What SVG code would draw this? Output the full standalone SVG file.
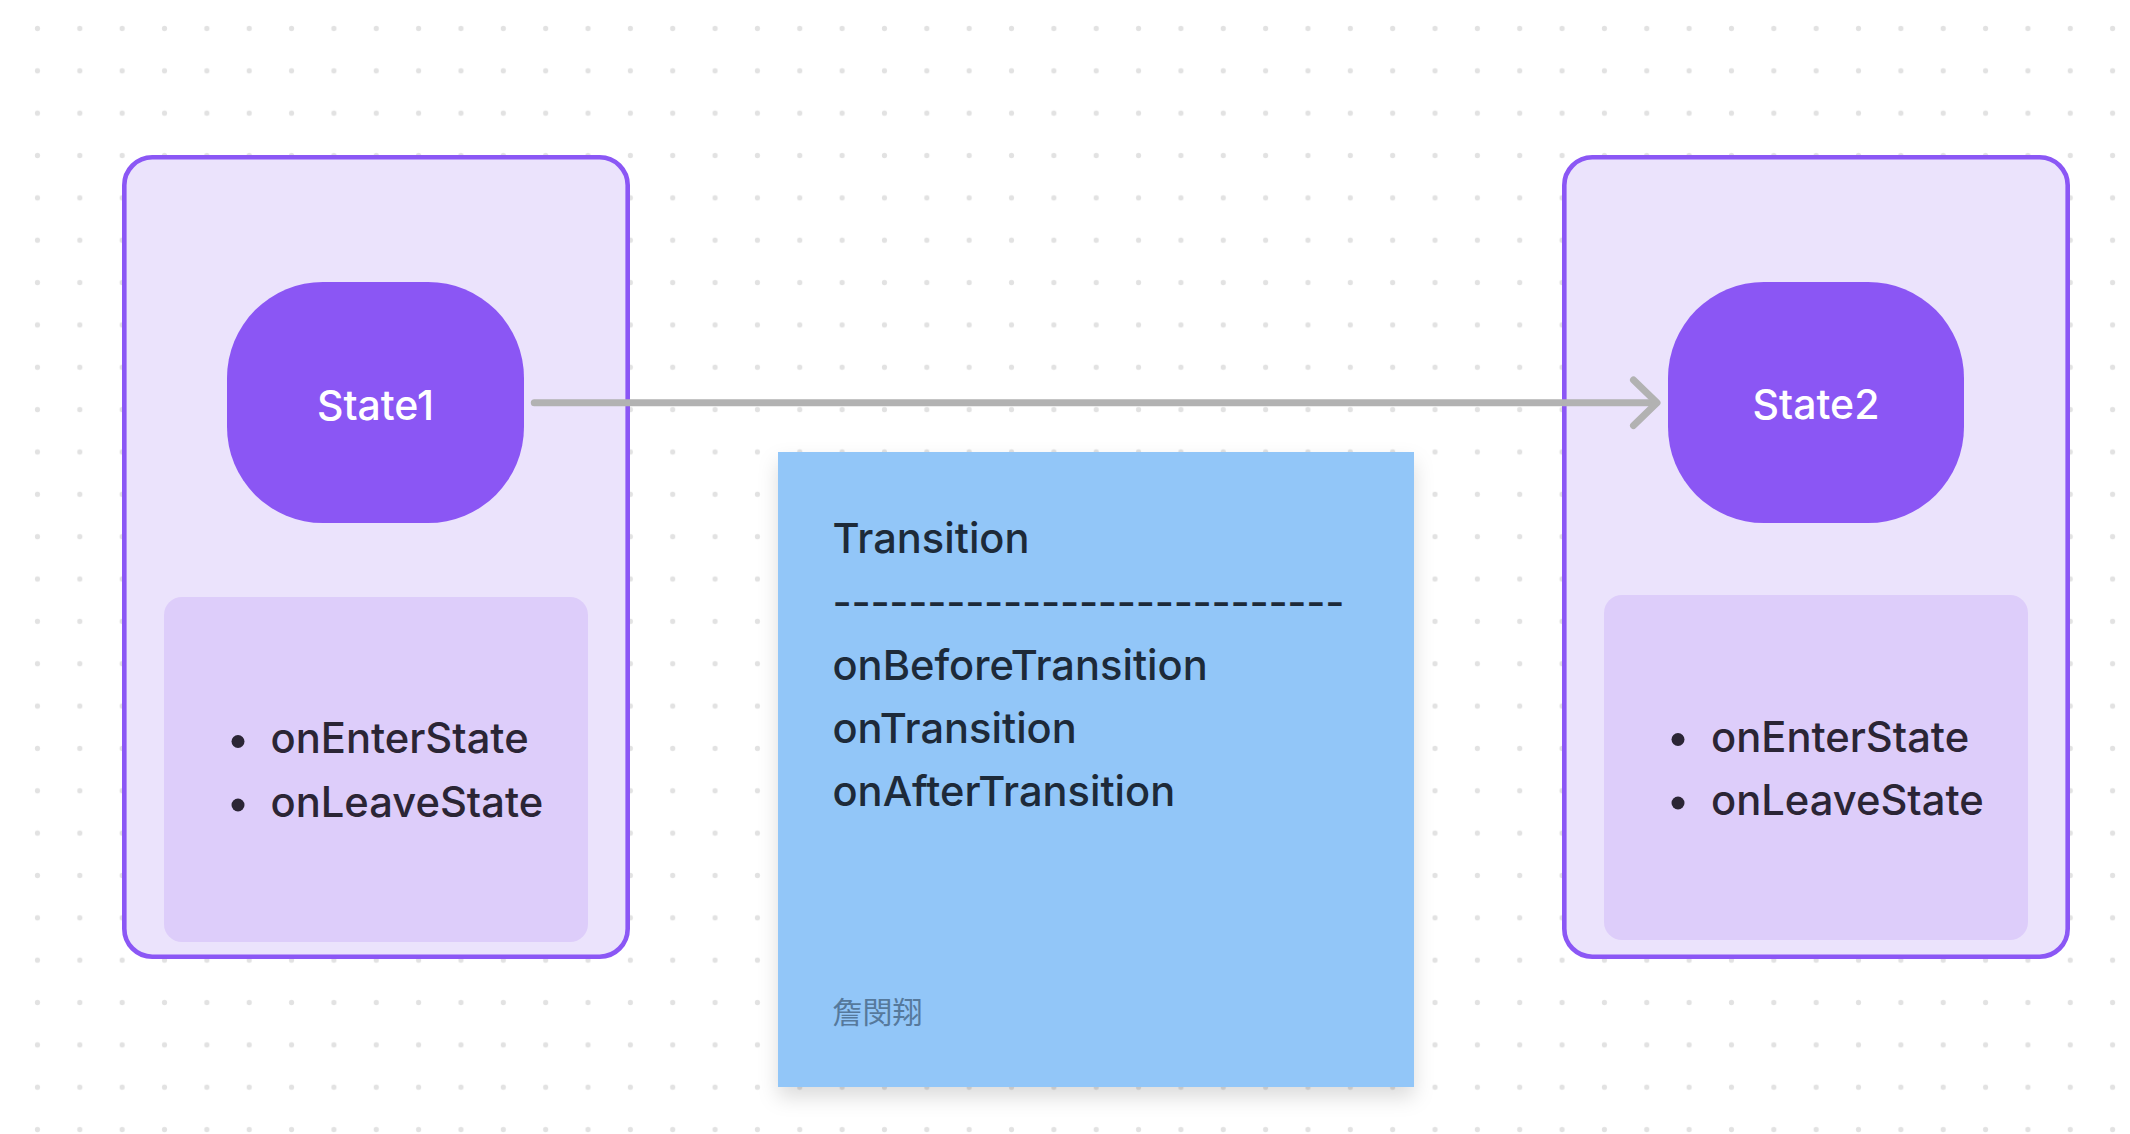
<svg xmlns="http://www.w3.org/2000/svg" width="2130" height="1134" viewBox="0 0 2130 1134">
  <defs>
    <pattern id="dots" x="16.3" y="7.3" width="42.35" height="42.35" patternUnits="userSpaceOnUse">
      <circle cx="21.175" cy="21.175" r="2.6" fill="#e2e2e2"/>
    </pattern>
    <filter id="shadow" x="-20%" y="-20%" width="140%" height="150%">
      <feDropShadow dx="0" dy="10" stdDeviation="10" flood-color="#000" flood-opacity="0.14"/>
    </filter>
    <style>
      .frame { fill: #ebe3fc; stroke: #8b57f5; stroke-width: 4.6; }
      .inner { fill: #ddcdfa; }
      .pill { fill: #8b56f4; }
      .stname { font-family: Inter, "Noto Sans", sans-serif; font-size: 41px; font-weight: 500; fill: #ffffff; text-anchor: middle; }
      .item { font-family: Inter, "Noto Sans", sans-serif; font-size: 41.7px; font-weight: 500; fill: #2b2535; }
      .bullet { fill: #2b2535; }
      .note { fill: #92c6f8; }
      .ntext { font-family: Inter, "Noto Sans", sans-serif; font-size: 41.6px; font-weight: 500; fill: #1d2a39; }
      .author { font-family: "Noto Sans CJK TC", "Noto Sans CJK SC", sans-serif; font-size: 30px; fill: #56799c; }
      .conn { fill: none; stroke: #b2b2b2; stroke-width: 7; stroke-linecap: round; stroke-linejoin: round; }
    </style>
  </defs>

  <rect width="2130" height="1134" fill="#ffffff"/>
  <rect width="2130" height="1134" fill="url(#dots)"/>

  <g id="group-state1">
    <rect class="frame" x="124.3" y="157.3" width="503.4" height="799.4" rx="28"/>
    <rect class="inner" x="164" y="597" width="424" height="345" rx="18"/>
    <g id="state1">
      <rect class="pill" x="227" y="282" width="297" height="241" rx="96" ry="96"/>
      <text class="stname" x="375.5" y="420">State1</text>
    </g>
    <g id="state1-hooks">
      <circle class="bullet" cx="238" cy="741.5" r="6.5"/>
      <text class="item" x="270.5" y="753">onEnterState</text>
      <circle class="bullet" cx="238" cy="805" r="6.5"/>
      <text class="item" x="270.5" y="816.5">onLeaveState</text>
    </g>
  </g>

  <g id="group-state2">
    <rect class="frame" x="1564.3" y="157.3" width="503.4" height="799.4" rx="28"/>
    <rect class="inner" x="1604" y="595" width="424" height="345" rx="18"/>
    <g id="state2">
      <rect class="pill" x="1668" y="282" width="296" height="241" rx="96" ry="96"/>
      <text class="stname" x="1816" y="419">State2</text>
    </g>
    <g id="state2-hooks">
      <circle class="bullet" cx="1678" cy="739.5" r="6.5"/>
      <text class="item" x="1711" y="751.5">onEnterState</text>
      <circle class="bullet" cx="1678" cy="803" r="6.5"/>
      <text class="item" x="1711" y="815">onLeaveState</text>
    </g>
  </g>

  <g id="connectors">
    <path class="conn" d="M534.3 402.7 L1656 402.7"/>
    <path class="conn" d="M1633.5 380 L1657 402.7 L1633.5 425.5"/>
  </g>

  <g id="note-transition">
    <rect class="note" x="778" y="452" width="636" height="635" filter="url(#shadow)"/>
    <text class="ntext" x="832.5" y="553">Transition</text>
    <text class="ntext" x="832.5" y="616.5" textLength="512" lengthAdjust="spacing">---------------------------</text>
    <text class="ntext" x="832.5" y="680">onBeforeTransition</text>
    <text class="ntext" x="832.5" y="743">onTransition</text>
    <text class="ntext" x="832.5" y="806">onAfterTransition</text>
    <text class="author" x="832.5" y="1023">詹閔翔</text>
  </g>
</svg>
